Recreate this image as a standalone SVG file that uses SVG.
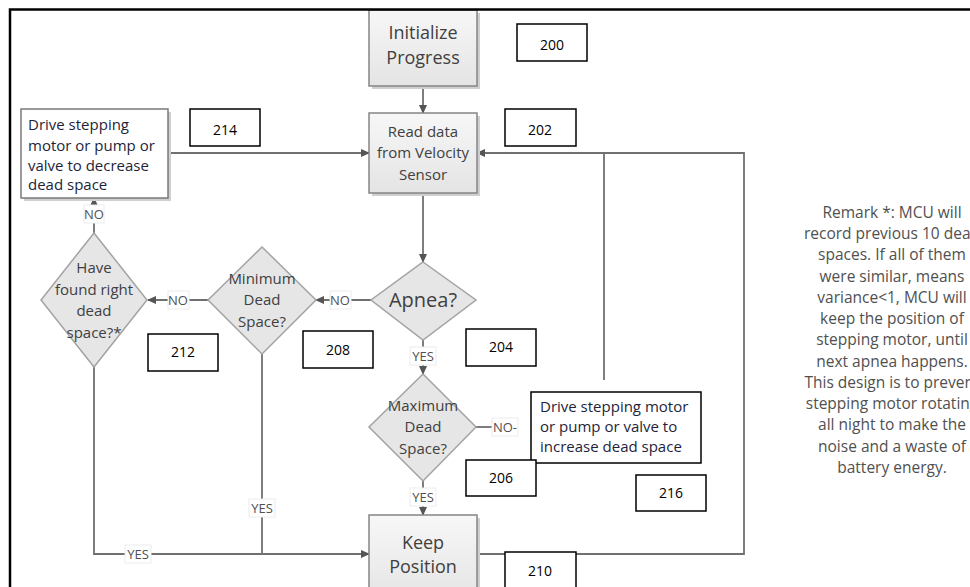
<svg xmlns="http://www.w3.org/2000/svg" width="970" height="587" viewBox="0 0 970 587">
<style>
.box{fill:url(#g);stroke:#858585;stroke-width:1.5}
.shadow{fill:#cfcfcf}
.dia{fill:#e6e6e6;stroke:#a3a3a3;stroke-width:1.5}
.nt{font-family:"Open Sans","Liberation Sans",sans-serif;fill:#404040;text-anchor:middle}
.num rect{fill:#fff;stroke:#000;stroke-width:1.5}
.num text{font-family:"Open Sans","Liberation Sans",sans-serif;font-size:14px;fill:#000;text-anchor:middle}
.conn path{fill:none;stroke:#707070;stroke-width:1.8}
.lbl rect{fill:#fff;stroke:#ececec;stroke-width:1}
.lbl text{font-family:"Open Sans","Liberation Sans",sans-serif;font-size:13px;fill:#505050;text-anchor:middle}
.drv{font-family:"Open Sans","Liberation Sans",sans-serif;font-size:15px;fill:#231f3a;font-weight:500}
.rem{font-family:"Open Sans","Liberation Sans",sans-serif;font-size:15.5px;fill:#505050;text-anchor:middle}
</style>
<defs>
<linearGradient id="g" x1="0" y1="0" x2="0" y2="1">
<stop offset="0" stop-color="#f7f7f7"/>
<stop offset="1" stop-color="#e4e4e4"/>
</linearGradient>
<marker id="arr" markerWidth="9" markerHeight="8" refX="8" refY="4" orient="auto" markerUnits="userSpaceOnUse">
<path d="M0,0 L9,4 L0,8 Z" fill="#555"/>
</marker>
</defs>
<rect width="970" height="587" fill="#fff"/>

<g class="conn" id="connectors">
<path d="M423,86 V113" marker-end="url(#arr)"/>
<path d="M423,193 V262" marker-end="url(#arr)"/>
<path d="M371,300 H316" marker-end="url(#arr)"/>
<path d="M208,300 H148" marker-end="url(#arr)"/>
<path d="M94,233 V198" marker-end="url(#arr)"/>
<path d="M168,153 H369" marker-end="url(#arr)"/>
<path d="M423,340 V374" marker-end="url(#arr)"/>
<path d="M476,427 H492"/>
<path d="M604,380 V153"/>
<path d="M423,481 V515" marker-end="url(#arr)"/>
<path d="M94,367 V554 H369" marker-end="url(#arr)"/>
<path d="M262,354 V554"/>
<path d="M477,554 H744 V153 H477" marker-end="url(#arr)"/>
</g>

<g id="n200-init">
<rect class="shadow" x="372" y="13" width="108" height="76"/>
<rect class="box" x="369" y="10" width="108" height="76"/>
<text class="nt" font-size="18" x="423" y="39">Initialize</text>
<text class="nt" font-size="18" x="423" y="64">Progress</text>
</g>
<g id="n202-read">
<rect class="shadow" x="372" y="116" width="108" height="80"/>
<rect class="box" x="369" y="113" width="108" height="80"/>
<text class="nt" font-size="15" x="423" y="137">Read data</text>
<text class="nt" font-size="15" x="423" y="158">from Velocity</text>
<text class="nt" font-size="15" x="423" y="180">Sensor</text>
</g>
<g id="n214-decrease">
<rect class="shadow" x="24" y="112" width="147" height="89"/>
<rect x="21" y="109" width="147" height="89" fill="#fff" stroke="#7a7a7a" stroke-width="1.5"/>
<text class="drv" x="28" y="130">Drive stepping</text>
<text class="drv" x="28" y="151">motor or pump or</text>
<text class="drv" x="28" y="171">valve to decrease</text>
<text class="drv" x="28" y="190">dead space</text>
</g>
<g id="n212-found">
<polygon class="dia" points="94,233 147,300 94,367 41,300"/>
<text class="nt" font-size="15" x="94" y="273">Have</text>
<text class="nt" font-size="15" x="94" y="295">found right</text>
<text class="nt" font-size="15" x="94" y="316">dead</text>
<text class="nt" font-size="15" x="94" y="338">space?*</text>
</g>
<g id="n208-min">
<polygon class="dia" points="262,247 316,300 262,354 208,300"/>
<text class="nt" font-size="15" x="262" y="284">Minimum</text>
<text class="nt" font-size="15" x="262" y="305">Dead</text>
<text class="nt" font-size="15" x="262" y="327">Space?</text>
</g>
<g id="n204-apnea">
<polygon class="dia" points="423,262 476,300 423,340 371,300"/>
<text class="nt" font-size="20" x="423" y="307">Apnea?</text>
</g>
<g id="n206-max">
<polygon class="dia" points="423,374 476,427 423,481 369,427"/>
<text class="nt" font-size="15" x="423" y="411">Maximum</text>
<text class="nt" font-size="15" x="423" y="432">Dead</text>
<text class="nt" font-size="15" x="423" y="454">Space?</text>
</g>
<g id="n216-increase">
<rect x="531" y="392" width="170" height="71" fill="#fff" stroke="#000" stroke-width="1.5"/>
<text class="drv" x="540" y="412">Drive stepping motor</text>
<text class="drv" x="540" y="432">or pump or valve to</text>
<text class="drv" x="540" y="452">increase dead space</text>
</g>
<g id="n210-keep">
<rect class="shadow" x="372" y="518" width="108" height="90"/>
<rect class="box" x="369" y="515" width="108" height="90"/>
<text class="nt" font-size="18" x="423" y="549">Keep</text>
<text class="nt" font-size="18" x="423" y="573">Position</text>
</g>

<g class="lbl" id="labels">
<rect x="84" y="205" width="20" height="18"/><text x="94" y="219">NO</text>
<rect x="168" y="291" width="21" height="18"/><text x="178" y="305">NO</text>
<rect x="330" y="291" width="21" height="18"/><text x="340" y="305">NO</text>
<rect x="492" y="418" width="26" height="18"/><text x="505" y="432">NO-</text>
<rect x="410" y="347" width="26" height="18"/><text x="423" y="361">YES</text>
<rect x="410" y="488" width="26" height="18"/><text x="423" y="502">YES</text>
<rect x="249" y="499" width="26" height="18"/><text x="262" y="513">YES</text>
<rect x="125" y="545" width="26" height="18"/><text x="138" y="559">YES</text>
</g>

<g class="num" id="numbers">
<g id="r200"><rect x="517" y="24" width="70" height="37"/><text x="552" y="50">200</text></g>
<g id="r202"><rect x="505" y="109" width="71" height="37"/><text x="540" y="135">202</text></g>
<g id="r214"><rect x="190" y="109" width="70" height="37"/><text x="225" y="135">214</text></g>
<g id="r212"><rect x="148" y="334" width="70" height="37"/><text x="183" y="357">212</text></g>
<g id="r208"><rect x="303" y="331" width="70" height="37"/><text x="338" y="355">208</text></g>
<g id="r204"><rect x="466" y="329" width="70" height="37"/><text x="501" y="352">204</text></g>
<g id="r206"><rect x="466" y="460" width="70" height="36"/><text x="501" y="483">206</text></g>
<g id="r216"><rect x="636" y="475" width="70" height="36"/><text x="671" y="498">216</text></g>
<g id="r210"><rect x="505" y="552" width="71" height="45"/><text x="540" y="576">210</text></g>
</g>

<g id="remark">
<text class="rem" x="892" y="218">Remark *: MCU will</text>
<text class="rem" x="892" y="239">record previous 10 dead</text>
<text class="rem" x="892" y="260">spaces. If all of them</text>
<text class="rem" x="892" y="282">were similar, means</text>
<text class="rem" x="892" y="303">variance&lt;1, MCU will</text>
<text class="rem" x="892" y="324">keep the position of</text>
<text class="rem" x="892" y="345">stepping motor, until</text>
<text class="rem" x="892" y="367">next apnea happens.</text>
<text class="rem" x="892" y="388">This design is to prevent</text>
<text class="rem" x="892" y="409">stepping motor rotating</text>
<text class="rem" x="892" y="430">all night to make the</text>
<text class="rem" x="892" y="452">noise and a waste of</text>
<text class="rem" x="892" y="473">battery energy.</text>
</g>

<g id="frame">
<path d="M10,587 V9.5 H970" fill="none" stroke="#000" stroke-width="2.5"/>
</g>
</svg>
